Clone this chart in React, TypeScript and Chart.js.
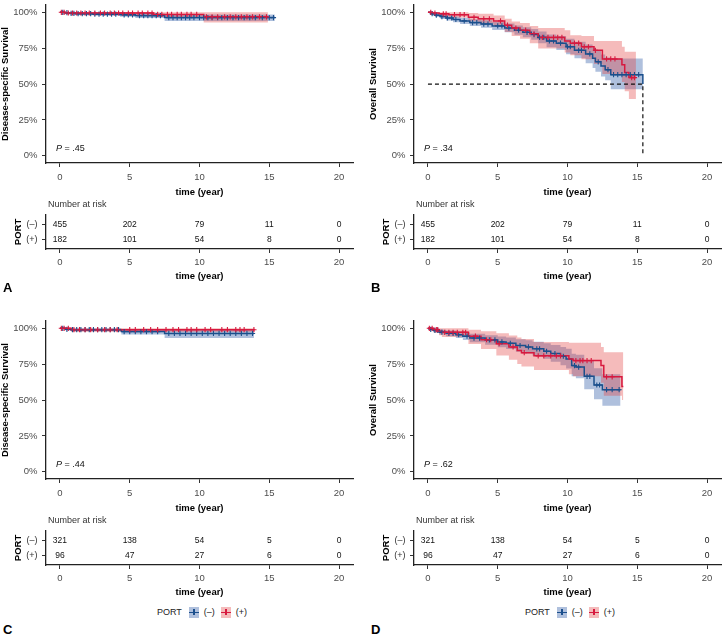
import React, { useEffect, useRef } from 'react';
import { Chart, registerables } from 'chart.js';
Chart.register(...registerables);

const FONT = '"Liberation Sans", Arial, sans-serif';

// ---- shared ticks / labels ----
const TIME_TICKS = [0, 5, 10, 15, 20];
const SURV_TICKS = [0, 0.25, 0.5, 0.75, 1];
const GROUPS = ['(\u2013)', '(+)'];

// ---- KM step data: [time, survival, lower CI, upper CI] ----
const A_NEG = [
  [0, 1, 1, 1], [0.3, 0.997, 0.991, 1], [0.7, 0.993, 0.985, 1], [1.1, 0.99, 0.98, 0.999],
  [2.4, 0.987, 0.976, 0.998], [4.3, 0.982, 0.968, 0.995], [5.4, 0.977, 0.961, 0.992],
  [7.5, 0.963, 0.94, 0.985], [15.4, 0.963, 0.94, 0.985],
];
const A_POS = [
  [0, 1, 1, 1], [0.4, 0.995, 0.985, 1], [6.7, 0.985, 0.968, 1], [10.3, 0.968, 0.928, 1],
  [14.9, 0.968, 0.928, 1],
];
const B_NEG = [
  [0, 1, 1, 1], [0.2, 0.99, 0.98, 1], [0.5, 0.98, 0.967, 0.993], [0.9, 0.97, 0.954, 0.986],
  [1.3, 0.96, 0.942, 0.978], [1.8, 0.95, 0.93, 0.97], [2.3, 0.94, 0.918, 0.962],
  [3.0, 0.928, 0.904, 0.952], [3.8, 0.918, 0.892, 0.944], [4.6, 0.905, 0.877, 0.933],
  [5.5, 0.89, 0.86, 0.921], [6.2, 0.875, 0.843, 0.908], [6.8, 0.86, 0.826, 0.895],
  [7.4, 0.845, 0.808, 0.883], [7.9, 0.825, 0.785, 0.866], [8.5, 0.8, 0.756, 0.846],
  [9.2, 0.785, 0.738, 0.834], [9.9, 0.76, 0.708, 0.815], [10.5, 0.735, 0.68, 0.794],
  [11.3, 0.71, 0.645, 0.775], [11.8, 0.68, 0.612, 0.752], [12.0, 0.655, 0.585, 0.732],
  [12.4, 0.625, 0.553, 0.705], [12.7, 0.6, 0.526, 0.685], [13.1, 0.565, 0.464, 0.678],
  [15.4, 0.5, 0.464, 0.678],
];
const B_POS = [
  [0, 1, 1, 1], [0.3, 0.995, 0.985, 1], [0.8, 0.989, 0.973, 1], [1.5, 0.983, 0.963, 1],
  [2.9, 0.965, 0.937, 0.995], [3.6, 0.955, 0.922, 0.99], [4.7, 0.94, 0.902, 0.978],
  [5.5, 0.91, 0.862, 0.955], [6.0, 0.89, 0.835, 0.935], [6.6, 0.875, 0.815, 0.925],
  [7.3, 0.85, 0.785, 0.905], [7.9, 0.825, 0.748, 0.89], [9.8, 0.8, 0.72, 0.875],
  [10.2, 0.785, 0.7, 0.84], [11.0, 0.76, 0.672, 0.835], [11.9, 0.735, 0.64, 0.8],
  [12.5, 0.675, 0.57, 0.8], [13.9, 0.635, 0.515, 0.76], [14.1, 0.58, 0.45, 0.725],
  [14.4, 0.545, 0.396, 0.725], [14.9, 0.545, 0.396, 0.725],
];
const C_NEG = [
  [0, 1, 1, 1], [0.4, 0.993, 0.985, 1], [0.8, 0.99, 0.979, 1], [4.4, 0.977, 0.956, 0.995],
  [7.5, 0.964, 0.932, 0.99], [13.9, 0.964, 0.932, 0.99],
];
const C_POS = [
  [0, 1, 1, 1], [0.8, 0.99, 0.975, 1], [13.95, 0.99, 0.975, 1],
];
const D_NEG = [
  [0, 1, 1, 1], [0.2, 0.993, 0.984, 1], [0.4, 0.985, 0.972, 0.997], [0.8, 0.973, 0.956, 0.99],
  [1.3, 0.965, 0.945, 0.985], [2.0, 0.955, 0.932, 0.978], [2.5, 0.945, 0.919, 0.971],
  [3.0, 0.932, 0.903, 0.962], [4.1, 0.919, 0.886, 0.952], [5.0, 0.905, 0.868, 0.943],
  [5.6, 0.895, 0.855, 0.936], [6.3, 0.88, 0.837, 0.924], [7.0, 0.87, 0.824, 0.917],
  [7.5, 0.857, 0.808, 0.907], [8.3, 0.84, 0.787, 0.895], [8.8, 0.824, 0.767, 0.884],
  [9.5, 0.805, 0.743, 0.87], [9.9, 0.786, 0.72, 0.857], [10.3, 0.74, 0.665, 0.822],
  [10.6, 0.73, 0.652, 0.815], [11.2, 0.665, 0.575, 0.77], [11.9, 0.605, 0.505, 0.722],
  [12.5, 0.572, 0.46, 0.68], [13.8, 0.572, 0.46, 0.68],
];
const D_POS = [
  [0, 1, 1, 1], [0.4, 0.99, 0.97, 1], [0.8, 0.98, 0.952, 1], [1.0, 0.972, 0.94, 1],
  [2.9, 0.945, 0.89, 0.99], [3.8, 0.92, 0.855, 0.98], [4.9, 0.893, 0.81, 0.965],
  [5.8, 0.87, 0.78, 0.95], [6.4, 0.845, 0.752, 0.935], [6.7, 0.83, 0.733, 0.925],
  [7.6, 0.808, 0.71, 0.905], [10.1, 0.786, 0.68, 0.9], [10.4, 0.775, 0.665, 0.9],
  [12.4, 0.74, 0.62, 0.87], [12.6, 0.662, 0.53, 0.833], [13.9, 0.595, 0.5, 0.833],
  [14.0, 0.595, 0.5, 0.833],
];

// ---- censoring times ----
const A_NEG_CENS = [0.2, 0.5, 0.8, 1.0, 1.3, 1.6, 1.9, 2.2, 2.5, 2.8, 3.1, 3.4, 3.7, 4.0, 4.6, 4.9, 5.2, 5.7, 6.0, 6.3, 6.6, 6.9, 7.2, 7.8, 8.1, 8.4, 8.7, 9.0, 9.3, 9.6, 10.0, 10.3, 10.6, 10.9, 11.3, 11.6, 12.0, 12.4, 12.8, 13.2, 13.6, 14.0, 14.5, 15.0, 15.3];
const A_POS_CENS = [0.1, 0.3, 0.6, 0.9, 1.2, 1.5, 1.8, 2.1, 2.5, 2.9, 3.2, 3.6, 3.9, 4.2, 4.5, 4.9, 5.2, 5.6, 5.9, 6.3, 6.6, 7.0, 7.3, 7.7, 8.0, 8.4, 8.7, 9.1, 9.4, 9.8, 10.5, 10.9, 11.3, 11.8, 12.2, 12.6, 13.0, 13.4, 13.8, 14.3, 14.8];
const B_NEG_CENS = [0.3, 0.6, 1.0, 1.4, 1.7, 2.0, 2.6, 3.2, 3.5, 4.0, 4.3, 5.0, 5.3, 5.8, 6.5, 7.1, 7.6, 8.0, 8.3, 8.7, 9.0, 9.5, 10.0, 10.2, 10.8, 11.0, 11.6, 12.2, 12.9, 13.3, 13.6, 13.9, 14.2, 14.5, 14.8, 15.1];
const B_POS_CENS = [0.2, 0.5, 1.1, 1.3, 1.9, 2.3, 2.6, 3.3, 4.0, 4.4, 5.2, 5.7, 6.3, 7.0, 7.6, 8.2, 8.6, 9.0, 9.3, 9.6, 10.5, 10.8, 11.2, 11.5, 12.0, 12.8, 13.1, 13.4, 14.6, 14.8];
const C_NEG_CENS = [0.2, 0.5, 0.9, 1.2, 1.5, 1.8, 2.1, 2.4, 2.7, 3.0, 3.3, 3.6, 3.9, 4.2, 4.6, 5.0, 5.4, 5.8, 6.2, 6.6, 7.0, 7.8, 8.2, 8.6, 9.0, 9.4, 9.8, 10.2, 10.6, 11.0, 11.4, 11.8, 12.2, 12.6, 13.0, 13.4, 13.8];
const C_POS_CENS = [0.1, 0.3, 0.6, 1.0, 1.4, 1.8, 2.2, 2.7, 3.2, 3.6, 4.1, 5.0, 5.4, 6.0, 6.5, 7.0, 7.6, 8.1, 8.5, 9.1, 9.4, 9.8, 10.4, 10.8, 11.6, 12.0, 12.6, 12.9, 13.2, 13.9];
const D_NEG_CENS = [0.2, 0.5, 0.7, 1.0, 1.5, 1.8, 2.2, 2.8, 3.3, 3.7, 4.4, 4.8, 5.3, 5.9, 6.6, 7.2, 7.8, 8.0, 8.5, 9.1, 9.7, 10.5, 10.8, 11.4, 11.6, 12.1, 12.3, 12.8, 13.2, 13.7];
const D_POS_CENS = [0.1, 0.3, 0.6, 0.7, 1.2, 1.5, 1.8, 2.1, 2.5, 2.7, 3.4, 4.2, 4.5, 5.1, 6.1, 6.9, 7.9, 8.3, 8.8, 9.2, 9.5, 10.6, 10.9, 11.1, 11.4, 11.7, 12.8, 13.2];

// ---- numbers at risk (at TIME_TICKS) ----
const RISK_AB_NEG = [455, 202, 79, 11, 0];
const RISK_AB_POS = [182, 101, 54, 8, 0];
const RISK_CD_NEG = [321, 138, 54, 5, 0];
const RISK_CD_POS = [96, 47, 27, 6, 0];

const P_VALUES = ['.45', '.34', '.44', '.62'];
const LETTERS = ['A', 'B', 'C', 'D'];
const Y_TITLES = ['Disease-specific Survival', 'Overall Survival', 'Disease-specific Survival', 'Overall Survival'];

// ---- colours ----
const BLUE = '#1B4F8C';
const RED = '#D7193F';
const BLUE_FILL = 'rgba(44,90,165,0.38)';
const RED_FILL = 'rgba(225,60,60,0.35)';
const BLUE_KEY = 'rgb(175,192,221)';
const RED_KEY = 'rgb(244,187,187)';

const PANELS = [
  { neg: A_NEG, pos: A_POS, negC: A_NEG_CENS, posC: A_POS_CENS, rNeg: RISK_AB_NEG, rPos: RISK_AB_POS },
  { neg: B_NEG, pos: B_POS, negC: B_NEG_CENS, posC: B_POS_CENS, rNeg: RISK_AB_NEG, rPos: RISK_AB_POS },
  { neg: C_NEG, pos: C_POS, negC: C_NEG_CENS, posC: C_POS_CENS, rNeg: RISK_CD_NEG, rPos: RISK_CD_POS },
  { neg: D_NEG, pos: D_POS, negC: D_NEG_CENS, posC: D_POS_CENS, rNeg: RISK_CD_NEG, rPos: RISK_CD_POS },
];

function survAt(rows, t) {
  let s = rows[0][1];
  for (const r of rows) {
    if (r[0] <= t) s = r[1];
    else break;
  }
  return s;
}
function medianOf(rows) {
  for (const r of rows) if (r[1] <= 0.5) return r[0];
  return null;
}

const axisCommon = {
  grid: { display: true, drawOnChartArea: false, drawTicks: true, tickLength: 4, color: '#333', lineWidth: 1 },
  border: { display: true, color: '#222', width: 1.3 },
};

function xAxis(height, tickPad, titlePad) {
  return {
    type: 'linear', min: -1, max: 21,
    afterBuildTicks: (s) => { s.ticks = TIME_TICKS.map((v) => ({ value: v })); },
    afterFit: (s) => { s.height = height; s.paddingLeft = 0; s.paddingRight = 0; },
    ...axisCommon,
    ticks: { color: '#4D4D4D', font: { size: 9.5, family: FONT }, padding: tickPad, maxRotation: 0, autoSkip: false },
    title: { display: true, text: 'time (year)', color: '#000', font: { size: 9.5, weight: 'bold', family: FONT }, padding: { top: 0, bottom: titlePad } },
  };
}

function mainConfig(idx) {
  const p = PANELS[idx];
  const lineDs = (rows, k) => rows.map((r) => ({ x: r[0], y: r[k] }));
  const band = (rows, color, target, order) => ([
    { data: lineDs(rows, 2), borderWidth: 0, pointRadius: 0, stepped: 'before', fill: false, order },
    { data: lineDs(rows, 3), borderWidth: 0, pointRadius: 0, stepped: 'before', fill: { target }, backgroundColor: color, order: order - 1 },
  ]);
  const curve = (rows, color, order) => ({
    data: lineDs(rows, 1), borderColor: color, borderWidth: 1.5, pointRadius: 0, stepped: 'before', fill: false, order,
  });
  const cens = (rows, times, color, order) => ({
    data: times.map((t) => ({ x: t, y: survAt(rows, t) })), showLine: false, pointStyle: 'cross',
    pointRadius: 2.6, pointBorderWidth: 1.1, borderColor: color, pointBorderColor: color, order,
  });
  const datasets = [
    ...band(p.neg, BLUE_FILL, 0, 20),
    ...band(p.pos, RED_FILL, 2, 18),
    curve(p.neg, BLUE, 8),
    curve(p.pos, RED, 7),
    cens(p.neg, p.negC, BLUE, 6),
    cens(p.pos, p.posC, RED, 5),
  ];
  const med = medianOf(p.neg);
  if (med !== null) {
    datasets.push({
      data: [{ x: 0, y: 0.5 }, { x: med, y: 0.5 }, { x: med, y: 0 }], borderColor: '#111', borderWidth: 1.2,
      borderDash: [4, 3], pointRadius: 0, fill: false, order: 1,
    });
  }
  const pPlugin = {
    id: 'pval',
    afterDraw(chart) {
      const { ctx, chartArea, scales } = chart;
      const y = scales.y.getPixelForValue(0.05);
      const x = chartArea.left + 10;
      ctx.save();
      ctx.fillStyle = '#111';
      ctx.textBaseline = 'middle';
      ctx.textAlign = 'left';
      ctx.font = `italic 9px ${FONT}`;
      ctx.fillText('P', x, y);
      const w = ctx.measureText('P').width;
      ctx.font = `9px ${FONT}`;
      ctx.fillText(' = ' + P_VALUES[idx], x + w, y);
      ctx.restore();
    },
  };
  return {
    type: 'line',
    data: { datasets },
    plugins: [pPlugin],
    options: {
      animation: false, responsive: false, events: [],
      layout: { padding: { top: 0, right: 7, left: 0, bottom: 0 } },
      plugins: { legend: { display: false }, tooltip: { enabled: false } },
      scales: {
        x: xAxis(37, 4.5, 2),
        y: {
          type: 'linear', min: -0.05, max: 1.05,
          afterBuildTicks: (s) => { s.ticks = SURV_TICKS.map((v) => ({ value: v })); },
          afterFit: (s) => { s.width = 46; s.paddingTop = 0; s.paddingBottom = 0; },
          ...axisCommon,
          ticks: { color: '#4D4D4D', font: { size: 9.5, family: FONT }, padding: 4.5, callback: (v) => Math.round(v * 100) + '%' },
          title: { display: true, text: Y_TITLES[idx], color: '#000', font: { size: 9.5, weight: 'bold', family: FONT }, padding: { top: 0, bottom: 0 } },
        },
      },
    },
  };
}

function riskConfig(idx) {
  const p = PANELS[idx];
  const row = (vals, g) => TIME_TICKS.map((t, i) => ({ x: t, y: g, n: vals[i] }));
  const riskPlugin = {
    id: 'risk',
    afterDraw(chart) {
      const { ctx, chartArea } = chart;
      ctx.save();
      ctx.textBaseline = 'middle';
      ctx.fillStyle = '#111';
      ctx.textAlign = 'center';
      ctx.font = `8.5px ${FONT}`;
      chart.data.datasets.forEach((ds, i) => {
        const meta = chart.getDatasetMeta(i);
        meta.data.forEach((pt, j) => ctx.fillText(String(ds.data[j].n), pt.x, pt.y));
      });
      ctx.textAlign = 'left';
      ctx.fillStyle = '#333';
      ctx.font = `9px ${FONT}`;
      ctx.fillText('Number at risk', chartArea.left + 2, chartArea.top - 10);
      ctx.restore();
    },
  };
  return {
    type: 'line',
    data: {
      datasets: [
        { data: row(p.rNeg, 1), showLine: false, pointRadius: 0 },
        { data: row(p.rPos, 2), showLine: false, pointRadius: 0 },
      ],
    },
    plugins: [riskPlugin],
    options: {
      animation: false, responsive: false, events: [],
      layout: { padding: { top: 15, right: 7, left: 0, bottom: 0 } },
      plugins: { legend: { display: false }, tooltip: { enabled: false } },
      scales: {
        x: xAxis(36, 3.5, 3),
        y: {
          type: 'linear', min: 0.4, max: 2.6, reverse: true,
          afterBuildTicks: (s) => { s.ticks = [{ value: 1 }, { value: 2 }]; },
          afterFit: (s) => { s.width = 46; s.paddingTop = 0; s.paddingBottom = 0; },
          ...axisCommon,
          ticks: { color: '#333', font: { size: 9, family: FONT }, padding: 4.5, callback: (v) => GROUPS[v - 1] },
          title: { display: true, text: 'PORT', color: '#000', font: { size: 9.5, weight: 'bold', family: FONT }, padding: { top: 13, bottom: 0 } },
        },
      },
    },
  };
}

function Key({ fill, color }) {
  return (
    <span style={{ position: 'relative', display: 'inline-block', width: 10, height: 11, background: fill }}>
      <span style={{ position: 'absolute', left: 0, top: 5, width: 10, height: 1.3, background: color }} />
      <span style={{ position: 'absolute', left: 4.4, top: 2.5, width: 1.3, height: 6, background: color }} />
    </span>
  );
}

function Panel({ idx }) {
  const mainRef = useRef(null);
  const riskRef = useRef(null);
  const col = idx % 2;
  const rowI = Math.floor(idx / 2);
  const ox = col ? 368 : 0;
  const oy = rowI ? 316 : 0;
  useEffect(() => {
    const c1 = new Chart(mainRef.current, mainConfig(idx));
    const c2 = new Chart(riskRef.current, riskConfig(idx));
    return () => { c1.destroy(); c2.destroy(); };
  }, [idx]);
  return (
    <>
      <canvas ref={mainRef} width={360} height={200} style={{ position: 'absolute', left: ox, top: oy, width: 360, height: 200 }} />
      <canvas ref={riskRef} width={360} height={85} style={{ position: 'absolute', left: ox, top: oy + 200, width: 360, height: 85 }} />
      {rowI === 1 && (
        <div style={{ position: 'absolute', left: ox + 157, top: 606, height: 12, display: 'flex', alignItems: 'center', fontFamily: FONT, fontSize: 9, color: '#222', whiteSpace: 'nowrap' }}>
          <span>PORT</span>
          <span style={{ width: 7 }} />
          <Key fill={BLUE_KEY} color={BLUE} />
          <span style={{ width: 5 }} />
          <span>{GROUPS[0]}</span>
          <span style={{ width: 6 }} />
          <Key fill={RED_KEY} color={RED} />
          <span style={{ width: 5 }} />
          <span>{GROUPS[1]}</span>
        </div>
      )}
      <div style={{ position: 'absolute', left: ox + 3, top: oy + (rowI ? 307 : 281), fontFamily: FONT, fontWeight: 'bold', fontSize: 13, lineHeight: 1, color: '#000' }}>
        {LETTERS[idx]}
      </div>
    </>
  );
}

export default function App() {
  return (
    <div style={{ position: 'fixed', left: 0, top: 0, width: 723, height: 638, background: '#fff', overflow: 'hidden' }}>
      {[0, 1, 2, 3].map((i) => <Panel key={i} idx={i} />)}
    </div>
  );
}
